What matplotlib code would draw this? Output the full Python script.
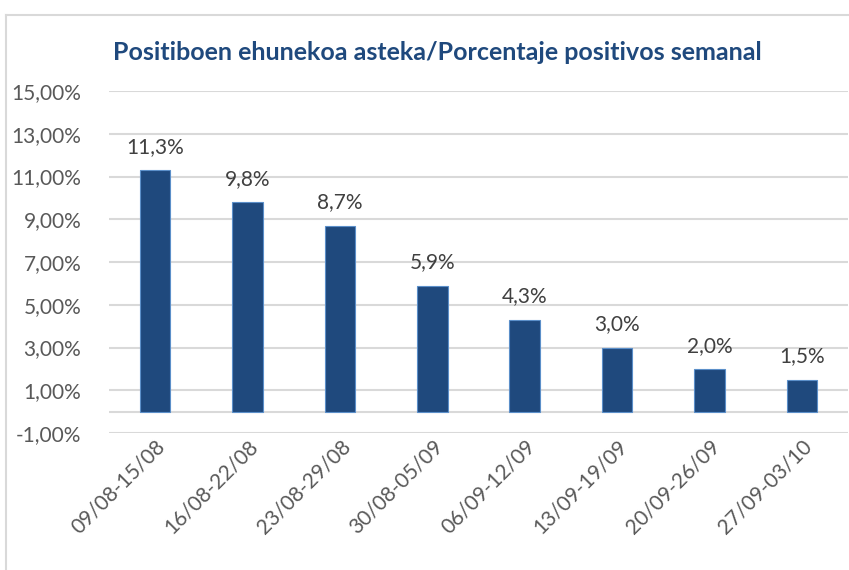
import matplotlib
matplotlib.use("Agg")
import matplotlib.pyplot as plt
from matplotlib.lines import Line2D

categories = ["09/08-15/08", "16/08-22/08", "23/08-29/08", "30/08-05/09",
              "06/09-12/09", "13/09-19/09", "20/09-26/09", "27/09-03/10"]
values = [11.3, 9.8, 8.7, 5.9, 4.3, 3.0, 2.0, 1.5]
yticks = [-1, 1, 3, 5, 7, 9, 11, 13, 15]
title = "Positiboen ehunekoa asteka/Porcentaje positivos semanal"

plt.rcParams['font.family'] = ['Lato', 'DejaVu Sans']

fig = plt.figure(figsize=(8.49, 5.70), dpi=100)
ax = fig.add_axes([109/849, 1-433/570, 739/849, 342/570])

x = list(range(len(categories)))
ax.bar(x, values, width=0.33, color="#1F497D", edgecolor="#5B8FC9", linewidth=0.8, zorder=3)
for xi, v in zip(x, values):
    ax.annotate(f"{v:.1f}%".replace(".", ","), (xi, v), xytext=(0, 9.5), textcoords="offset points",
                ha="center", va="bottom", fontsize=15, color="#404040")

ax.set_xlim(-0.5, len(categories) - 0.5)
ax.set_ylim(-1, 15)
ax.set_yticks(yticks)
ax.set_yticklabels([f"{t:.2f}%".replace(".", ",") for t in yticks], fontsize=15, color="#595959")
ax.set_xticks(x)
ax.set_xticklabels(categories, rotation=45, ha="right", rotation_mode="anchor",
                   fontsize=15, color="#595959")
ax.tick_params(axis="y", length=0, pad=20)
ax.tick_params(axis="x", length=0, pad=2)
ax.grid(axis="y", color="#D9D9D9", linewidth=1.5, zorder=0)
ax.axhline(0, color="#D9D9D9", linewidth=1.5, zorder=1)
for s in ax.spines.values():
    s.set_visible(False)

fig.text(437/849, 1-52/570, title, ha="center", va="center", fontsize=18,
         fontweight="bold", color="#1F497D")

# chart frame
fig.add_artist(Line2D([6/849, 6/849], [0, 1-15/570], transform=fig.transFigure, color="#D9D9D9", linewidth=1.5))
fig.add_artist(Line2D([6/849, 1], [1-15/570, 1-15/570], transform=fig.transFigure, color="#D9D9D9", linewidth=1.5))

fig.savefig("out.png", dpi=100)
